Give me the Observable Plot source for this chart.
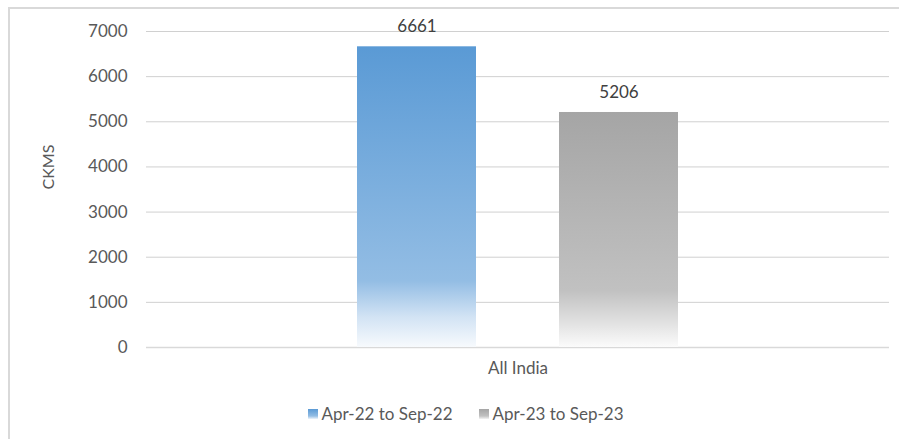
<!DOCTYPE html>
<html>
<head>
<meta charset="utf-8">
<script src="https://cdn.jsdelivr.net/npm/d3@7"></script>
<script src="https://cdn.jsdelivr.net/npm/@observablehq/plot@0.6"></script>
<style>
  html, body { margin: 0; padding: 0; background: #fff; }
  body { width: 899px; height: 439px; position: relative; overflow: hidden; font-family: Lato, "Open Sans", sans-serif; }
  #frame { position: absolute; left: 8px; top: 7px; width: 1000px; height: 1000px; border-left: 2px solid #d9d9d9; border-top: 2px solid #d9d9d9; }
  #chart { position: absolute; left: 0; top: 0; }
  #legend { position: absolute; left: 16px; top: 403px; width: 899px; display: flex; justify-content: center; font-size: 17px; color: #595959; }
  .item { display: flex; align-items: center; margin: 0 13px; }
</style>
</head>
<body>
<div id="frame"></div>
<div id="chart"></div>
<div id="legend"></div>
<script>
const categories = ["All India"];
const seriesNames = ["Apr-22 to Sep-22", "Apr-23 to Sep-23"];
const seriesValues = [6661, 5206];
const yTicks = [0, 1000, 2000, 3000, 4000, 5000, 6000, 7000];
const gradIds = ["gBlue", "gGray"];

const data = seriesNames.map((s, i) => ({category: categories[0], series: s, value: seriesValues[i], grad: gradIds[i]}));

const plot = Plot.plot({
  width: 899,
  height: 395,
  marginTop: 31,
  marginBottom: 48,
  marginLeft: 146,
  marginRight: 10,
  style: {fontFamily: "Lato, 'Open Sans', sans-serif", fontSize: "16px", color: "#595959", background: "transparent"},
  fx: {domain: categories, label: null, padding: 0, axis: null},
  x: {domain: seriesNames, paddingInner: 0.41, paddingOuter: 1.04, axis: null},
  y: {domain: [0, 7000], label: null, axis: null},
  marks: [
    Plot.gridY(yTicks.filter(d => d > 0), {stroke: "#d0d0d0", strokeOpacity: 1, strokeWidth: 1}),
    Plot.ruleY([0], {stroke: "#d9d9d9", strokeWidth: 1.5}),
    Plot.barY(data, {fx: "category", x: "series", y: "value", fill: d => `url(#${d.grad})`}),
    Plot.text(data, {fx: "category", x: "series", y: "value", text: d => String(d.value), dy: -20, fill: "#404040", fontSize: 17}),
    Plot.axisY({ticks: yTicks, tickFormat: d => String(d), tickSize: 0, tickPadding: 19, label: null, fill: "#595959", fontSize: 17}),
    Plot.axisFx({anchor: "bottom", tickSize: 0, tickPadding: 14, label: null, fill: "#595959", fontSize: 17}),
    Plot.text(["CKMS"], {frameAnchor: "left", dx: -98, rotate: -90, text: d => d, fill: "#595959", fontSize: 16, facetAnchor: null})
  ]
});

const svg = d3.select(plot);
const defs = svg.insert("defs", ":first-child");
function grad(id, stops) {
  const g = defs.append("linearGradient").attr("id", id).attr("x1", 0).attr("y1", 0).attr("x2", 0).attr("y2", 1);
  stops.forEach(([o, c]) => g.append("stop").attr("offset", o).attr("stop-color", c));
}
grad("gBlue", [[0, "#5a9ad5"], [0.78, "#93bde4"], [0.9, "#d2e3f4"], [1, "#f7fafd"]]);
grad("gGray", [[0, "#a5a5a5"], [0.76, "#c1c1c1"], [0.9, "#e2e2e2"], [1, "#fbfbfb"]]);
document.getElementById("chart").appendChild(plot);

// Legend
const legend = d3.select("#legend");
seriesNames.forEach((s, i) => {
  const item = legend.append("div").attr("class", "item");
  const sw = item.append("svg").attr("width", 10).attr("height", 10).style("margin-right", "4px");
  const lg = sw.append("defs").append("linearGradient").attr("id", "L" + i).attr("x1", 0).attr("y1", 0).attr("x2", 0).attr("y2", 1);
  const cols = i === 0 ? ["#5a9ad5", "#93bde4", "#eef4fb"] : ["#a5a5a5", "#c1c1c1", "#f3f3f3"];
  [[0, cols[0]], [0.7, cols[1]], [1, cols[2]]].forEach(([o, c]) => lg.append("stop").attr("offset", o).attr("stop-color", c));
  sw.append("rect").attr("width", 10).attr("height", 10).attr("fill", `url(#L${i})`);
  item.append("span").text(s);
});
</script>
</body>
</html>
